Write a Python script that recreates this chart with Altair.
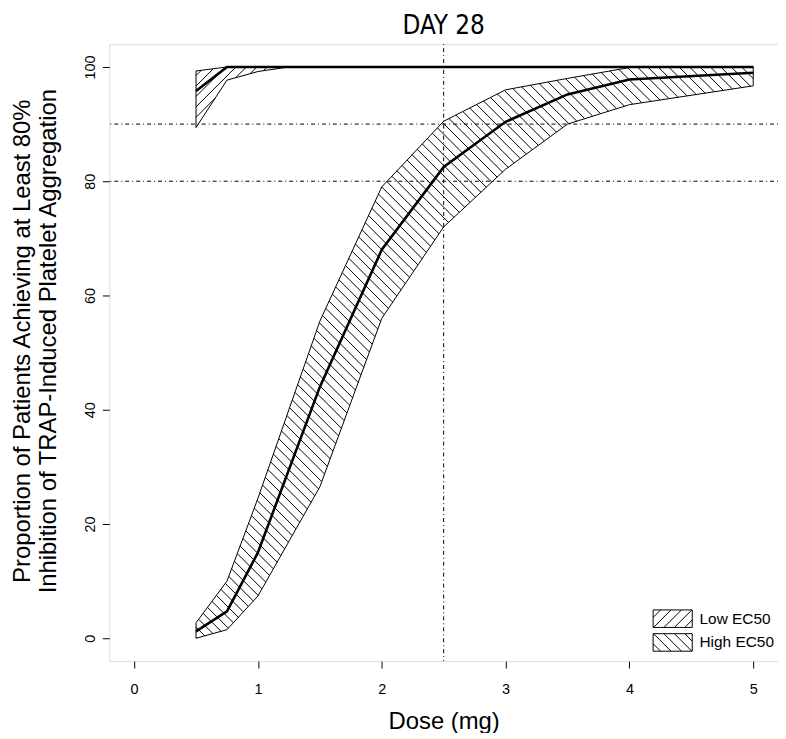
import altair as alt
import pandas as pd

# ---------------- data ----------------
high_dose = [0.5, 0.75, 1.0, 1.5, 2.0, 2.5, 3.0, 3.5, 4.0, 5.0]
high_lo = [0.0, 1.5, 7.4, 26.5, 56.0, 72.0, 82.1, 90.0, 93.4, 96.7]
high_mid = [1.2, 4.7, 15.0, 44.0, 68.0, 82.5, 90.4, 95.2, 97.8, 99.0]
high_hi = [2.7, 10.0, 24.5, 55.5, 79.0, 90.5, 96.0, 98.0, 99.9, 100.0]

low_dose = [0.5, 0.75, 1.0, 1.25, 5.0]
low_lo = [89.4, 97.7, 99.2, 100.0, 100.0]
low_mid = [95.8, 100.0, 100.0, 100.0, 100.0]
low_hi = [99.3, 100.0, 100.0, 100.0, 100.0]

ref_h = [80, 90]
ref_v = [2.5]
x_ticks = [0, 1, 2, 3, 4, 5]
y_ticks = [0, 20, 40, 60, 80, 100]
legend_labels = ["Low EC50", "High EC50"]
title_text = "DAY 28"

# ---------------- layout ----------------
W, H = 673, 621
XDOM = [-0.2, 5.2]
YDOM = [-4, 104]
sx = W / (XDOM[1] - XDOM[0])
sy = H / (YDOM[1] - YDOM[0])
FONT = "Liberation Sans"


def hatch(doses, lo, hi, direction, spacing):
    """Clip parallel 45-degree (in pixels) lines against the band polygon."""
    X = [sx * d for d in doses]
    L = [sy * v for v in lo]
    U = [sy * v for v in hi]
    if direction > 0:
        cs = [L[i] - X[i] for i in range(len(X))] + [U[i] - X[i] for i in range(len(X))]
    else:
        cs = [L[i] + X[i] for i in range(len(X))] + [U[i] + X[i] for i in range(len(X))]
    k0 = int(min(cs) // spacing) - 1
    k1 = int(max(cs) // spacing) + 2
    rows = []

    def half(ga, gb):
        if ga >= 0 and gb >= 0:
            return (0.0, 1.0)
        if ga < 0 and gb < 0:
            return None
        t0 = ga / (ga - gb)
        return (0.0, t0) if ga >= 0 else (t0, 1.0)

    for k in range(k0, k1):
        c = k * spacing
        ivs = []
        for i in range(len(X) - 1):
            xa, xb = X[i], X[i + 1]
            ya, yb = direction * xa + c, direction * xb + c
            h1 = half(ya - L[i], yb - L[i + 1])
            h2 = half(U[i] - ya, U[i + 1] - yb)
            if h1 is None or h2 is None:
                continue
            t1, t2 = max(h1[0], h2[0]), min(h1[1], h2[1])
            if t2 - t1 < 1e-9:
                continue
            ivs.append([xa + t1 * (xb - xa), xa + t2 * (xb - xa)])
        merged = []
        for iv in ivs:
            if merged and abs(merged[-1][1] - iv[0]) < 1e-6:
                merged[-1][1] = iv[1]
            else:
                merged.append(iv)
        for a, b in merged:
            if b - a < 0.3:
                continue
            rows.append({"hx": a / sx, "hy": (direction * a + c) / sy,
                         "hx2": b / sx, "hy2": (direction * b + c) / sy})
    return rows


def patch_path(hw, hh, s, spacing):
    p = f"M{-hw},{-hh}L{hw},{-hh}L{hw},{hh}L{-hw},{hh}Z"
    k = int((hw + hh) / spacing) + 1
    for j in range(-k, k + 1):
        c = j * spacing
        if s > 0:
            xa, xb = max(-hw, -hh - c), min(hw, hh - c)
        else:
            xa, xb = max(-hw, c - hh), min(hw, c + hh)
        if xb - xa > 0.05:
            p += f"M{xa:.3f},{s * xa + c:.3f}L{xb:.3f},{s * xb + c:.3f}"
    return p


band_df = pd.concat([
    pd.DataFrame({"dose": high_dose, "lo": high_lo, "mid": high_mid, "hi": high_hi, "band": "High EC50"}),
    pd.DataFrame({"dose": low_dose, "lo": low_lo, "mid": low_mid, "hi": low_hi, "band": "Low EC50"}),
])
hatch_df = pd.DataFrame(hatch(high_dose, high_lo, high_hi, -1, 10.5) +
                        hatch(low_dose, low_lo, low_hi, 1, 10.5))

xscale = alt.Scale(domain=XDOM, nice=False, zero=False)
yscale = alt.Scale(domain=YDOM, nice=False, zero=False)
xaxis = alt.Axis(values=x_ticks, title="Dose (mg)", grid=False, domain=False,
                 tickSize=7, tickColor="black", labelColor="black", labelFont=FONT,
                 labelFontSize=14.5, labelBaseline="alphabetic", labelPadding=26,
                 titleFont=FONT, titleFontSize=24, titleFontWeight="normal",
                 titleColor="black", titleBaseline="alphabetic", titleY=68)
yaxis = alt.Axis(values=y_ticks, title=["Proportion of Patients Achieving at Least 80%",
                                        "Inhibition of TRAP-Induced Platelet Aggregation"],
                 grid=False, domain=False, tickSize=7, tickColor="black",
                 labelColor="black", labelFont=FONT, labelFontSize=14.5,
                 labelAngle=270, labelAlign="center", labelBaseline="alphabetic",
                 labelPadding=8, titleFont=FONT, titleFontSize=24,
                 titleFontWeight="normal", titleColor="black", titleAngle=270,
                 titleAlign="center", titleBaseline="alphabetic", titleX=-80,
                 titleY=H / 2 - 12, titleLineHeight=26)


def X(f):
    return alt.X(f, type="quantitative", scale=xscale, axis=xaxis)


def Y(f):
    return alt.Y(f, type="quantitative", scale=yscale, axis=yaxis)


hatch_layer = alt.Chart(hatch_df).mark_rule(color="black", strokeWidth=1).encode(
    x=X("hx"), y=Y("hy"), x2="hx2", y2="hy2")

outline = alt.Chart(band_df).mark_area(fillOpacity=0, stroke="black", strokeWidth=1).encode(
    x=X("dose"), y=Y("lo"), y2="hi", detail="band:N")

median = alt.Chart(band_df).mark_line(color="black", strokeWidth=2.6).encode(
    x=X("dose"), y=Y("mid"), detail="band:N")

hrules = alt.Chart(pd.DataFrame({"v": ref_h})).mark_rule(
    color="black", strokeWidth=1, strokeDash=[1, 3, 4, 3]).encode(y=Y("v"))
vrules = alt.Chart(pd.DataFrame({"d": ref_v})).mark_rule(
    color="black", strokeWidth=1, strokeDash=[1, 3, 4, 3]).encode(x=X("d"))

title_layer = alt.Chart(pd.DataFrame({"t": [title_text]})).mark_text(
    align="center", baseline="alphabetic", font="DejaVu Sans Condensed, Liberation Sans Narrow, Liberation Sans",
    fontSize=26, color="black"
).encode(x=alt.value(446.5 - 110), y=alt.value(32 - 42), text="t:N")

# legend (drawn in the lower-right corner, like R's legend())
leg_layers = []
leg_y = [620.3 - 42, 644.2 - 42]
dirs = [-1, 1]  # path coords have y pointing down
for lab, yy, s in zip(legend_labels, leg_y, dirs):
    shape = patch_path(1.97, 0.88, s, 1.05)
    one = pd.DataFrame({"label": [lab]})
    leg_layers.append(alt.Chart(one).mark_point(
        shape=shape, size=400, filled=False, stroke="black", strokeWidth=1, opacity=1
    ).encode(x=alt.value(677 - 110), y=alt.value(yy)))
    leg_layers.append(alt.Chart(one).mark_text(
        align="left", baseline="middle", font=FONT, fontSize=15.5, color="black"
    ).encode(x=alt.value(704 - 110), y=alt.value(yy), text="label:N"))

chart = alt.layer(hatch_layer, outline, median, hrules, vrules, title_layer, *leg_layers).properties(
    width=W, height=H,
    padding={"left": 102, "top": 34, "right": 0, "bottom": 70},
    autosize=alt.AutoSizeParams(type="none"),
).configure_view(stroke="black", strokeWidth=1).configure(background="white")

chart.save("out.html", embed_options={"renderer": "svg", "actions": False})
